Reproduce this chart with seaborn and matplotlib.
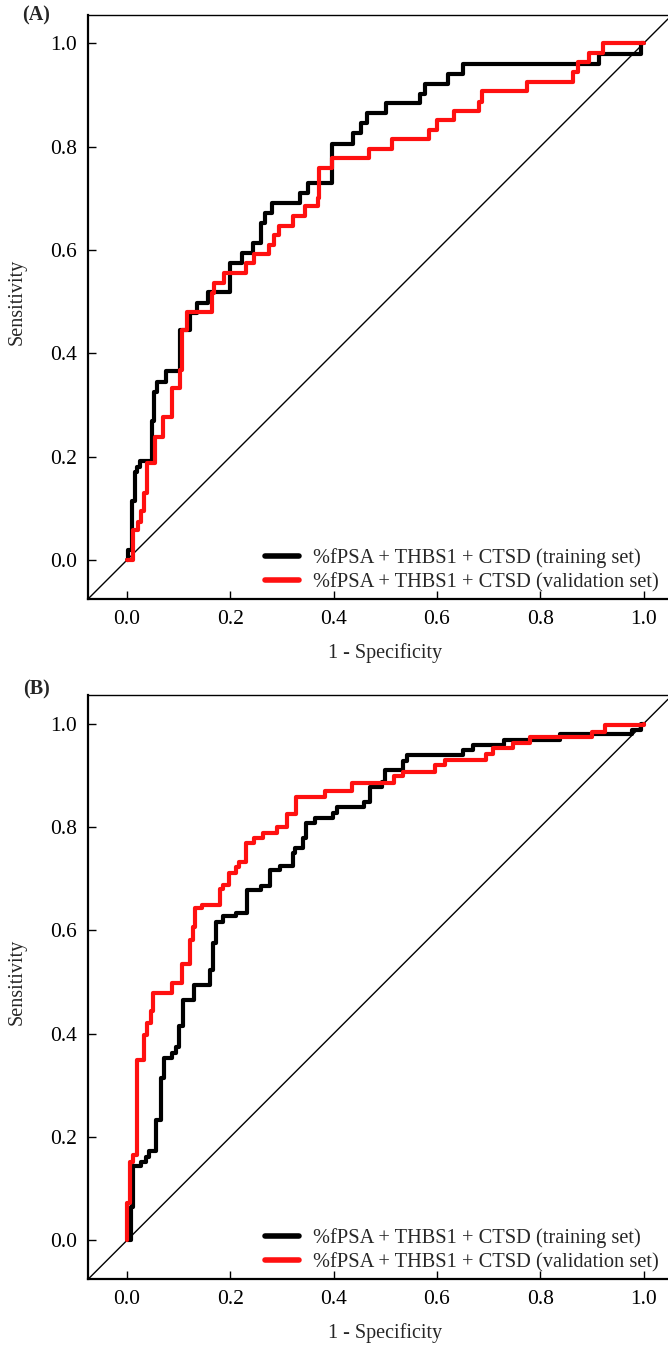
import matplotlib
matplotlib.use("Agg")
import matplotlib.pyplot as plt
import seaborn as sns

# ---------------- data ----------------
A_train_fpr = [0, 0.0025, 0.010, 0.015, 0.020, 0.025, 0.048, 0.053, 0.059, 0.075,
               0.103, 0.122, 0.135, 0.157, 0.199, 0.222, 0.243, 0.259, 0.267, 0.280,
               0.335, 0.351, 0.397, 0.437, 0.454, 0.464, 0.501, 0.567, 0.577, 0.622,
               0.650, 0.913, 0.996, 1.0]
A_train_tpr = [0, 0.019, 0.115, 0.171, 0.180, 0.192, 0.270, 0.326, 0.345, 0.365,
               0.445, 0.478, 0.498, 0.518, 0.574, 0.595, 0.614, 0.652, 0.671, 0.692,
               0.711, 0.730, 0.805, 0.826, 0.845, 0.865, 0.884, 0.902, 0.922, 0.941,
               0.960, 0.980, 1.0, 1.0]

A_val_fpr = [0, 0.011, 0.022, 0.028, 0.033, 0.038, 0.054, 0.070, 0.087, 0.103,
             0.106, 0.116, 0.164, 0.168, 0.187, 0.230, 0.246, 0.275, 0.285, 0.294,
             0.322, 0.345, 0.369, 0.372, 0.396, 0.469, 0.514, 0.585, 0.600, 0.633,
             0.682, 0.687, 0.774, 0.863, 0.874, 0.895, 0.922, 1.0]
A_val_tpr = [0, 0.058, 0.074, 0.094, 0.129, 0.187, 0.239, 0.277, 0.332, 0.368,
             0.445, 0.481, 0.516, 0.536, 0.555, 0.574, 0.592, 0.610, 0.629, 0.647,
             0.666, 0.685, 0.700, 0.758, 0.778, 0.796, 0.815, 0.833, 0.851, 0.869,
             0.887, 0.907, 0.926, 0.945, 0.964, 0.981, 1.0, 1.0]

B_train_fpr = [0, 0.007, 0.012, 0.028, 0.036, 0.043, 0.057, 0.065, 0.072, 0.087,
               0.095, 0.101, 0.109, 0.130, 0.161, 0.166, 0.172, 0.186, 0.211, 0.232,
               0.259, 0.276, 0.296, 0.321, 0.325, 0.341, 0.347, 0.364, 0.398, 0.407,
               0.458, 0.471, 0.493, 0.499, 0.535, 0.543, 0.651, 0.670, 0.729, 0.838,
               0.977, 0.996, 1.0]
B_train_tpr = [0, 0.065, 0.143, 0.152, 0.162, 0.172, 0.233, 0.314, 0.352, 0.363,
               0.375, 0.415, 0.465, 0.494, 0.523, 0.576, 0.617, 0.627, 0.634, 0.678,
               0.685, 0.717, 0.725, 0.750, 0.759, 0.778, 0.807, 0.817, 0.828, 0.839,
               0.849, 0.878, 0.888, 0.910, 0.927, 0.940, 0.949, 0.959, 0.969, 0.980,
               0.988, 1.0, 1.0]

B_val_fpr = [0, 0.0, 0.006, 0.012, 0.019, 0.032, 0.039, 0.046, 0.051, 0.087,
             0.106, 0.122, 0.127, 0.132, 0.145, 0.180, 0.185, 0.198, 0.212, 0.217,
             0.230, 0.245, 0.264, 0.290, 0.309, 0.327, 0.383, 0.435, 0.516, 0.535,
             0.596, 0.616, 0.695, 0.708, 0.748, 0.780, 0.900, 0.925, 1.0]
B_val_tpr = [0, 0.072, 0.152, 0.165, 0.349, 0.397, 0.420, 0.443, 0.478, 0.499,
             0.535, 0.581, 0.607, 0.643, 0.650, 0.680, 0.688, 0.711, 0.722, 0.733,
             0.769, 0.778, 0.789, 0.801, 0.825, 0.859, 0.869, 0.885, 0.898, 0.907,
             0.920, 0.930, 0.941, 0.953, 0.963, 0.975, 0.985, 0.998, 1.0]

tick_values = [0.0, 0.2, 0.4, 0.6, 0.8, 1.0]
tick_labels = ["0.0", "0.2", "0.4", "0.6", "0.8", "1.0"]
train_label = "%fPSA + THBS1 + CTSD (training set)"
val_label = "%fPSA + THBS1 + CTSD (validation set)"
panel_labels = ["(A)", "(B)"]
x_title = "1 - Specificity"
y_title = "Sensitivity"

# ---------------- style ----------------
sns.set_style("ticks")
plt.rcParams["font.family"] = ["Liberation Serif", "DejaVu Serif"]

W, H = 668, 1347
fig = plt.figure(figsize=(W / 100, H / 100), dpi=100)

panels = [
    dict(tr=(A_train_fpr, A_train_tpr), va=(A_val_fpr, A_val_tpr),
         top=15, bottom=599, ylim=(-0.0755, 1.055), label=panel_labels[0], lab_y=15),
    dict(tr=(B_train_fpr, B_train_tpr), va=(B_val_fpr, B_val_tpr),
         top=695, bottom=1279, ylim=(-0.0749, 1.0557), label=panel_labels[1], lab_y=689),
]

left_px, right_px = 88, 668
for p in panels:
    ax = fig.add_axes([left_px / W, 1 - p["bottom"] / H,
                       (right_px - left_px) / W, (p["bottom"] - p["top"]) / H])
    ax.set_xlim(-0.0755, 1.0474)
    ax.set_ylim(*p["ylim"])
    ax.axline((0, 0), (1, 1), color="black", lw=1.0, zorder=1)
    sns.lineplot(x=p["tr"][0], y=p["tr"][1], ax=ax, color="black", lw=3.0,
                 drawstyle="steps-post", estimator=None, sort=False,
                 label=train_label, zorder=3)
    sns.lineplot(x=p["va"][0], y=p["va"][1], ax=ax, color="#ff1010", lw=3.0,
                 drawstyle="steps-post", estimator=None, sort=False,
                 label=val_label, zorder=4)
    ax.set_xticks(tick_values)
    ax.set_xticklabels(tick_labels)
    ax.set_yticks(tick_values)
    ax.set_yticklabels(tick_labels)
    ax.tick_params(direction="in", length=6, width=1.0, labelsize=15.5, pad=8,
                   colors="black")
    ax.spines["right"].set_visible(False)
    ax.spines["top"].set_linewidth(1.0)
    ax.spines["left"].set_linewidth(1.6)
    ax.spines["bottom"].set_linewidth(1.6)
    for s in ax.spines.values():
        s.set_color("black")
    ax.set_xlabel(x_title, fontsize=14.5)
    ax.set_ylabel(y_title, fontsize=14.5)
    ax.xaxis.set_label_coords((385 - left_px) / (right_px - left_px), -0.075)
    ax.yaxis.set_label_coords(-0.106, (p["bottom"] - (p["bottom"] - 39 - 258)) / (p["bottom"] - p["top"]))
    leg = ax.legend(loc="lower left", frameon=False, fontsize=14.7,
                    handlelength=1.65, handletextpad=0.7, labelspacing=0.22,
                    borderpad=0, borderaxespad=0,
                    bbox_to_anchor=(265 / W, 1 - (p["bottom"] - 7) / H),
                    bbox_transform=fig.transFigure)
    for line in leg.get_lines():
        line.set_linewidth(4.0)
    fig.text(36 / W, 1 - p["lab_y"] / H, p["label"], fontsize=14.5,
             fontweight="bold", ha="center", va="center")

fig.savefig("out.png", dpi=100)
